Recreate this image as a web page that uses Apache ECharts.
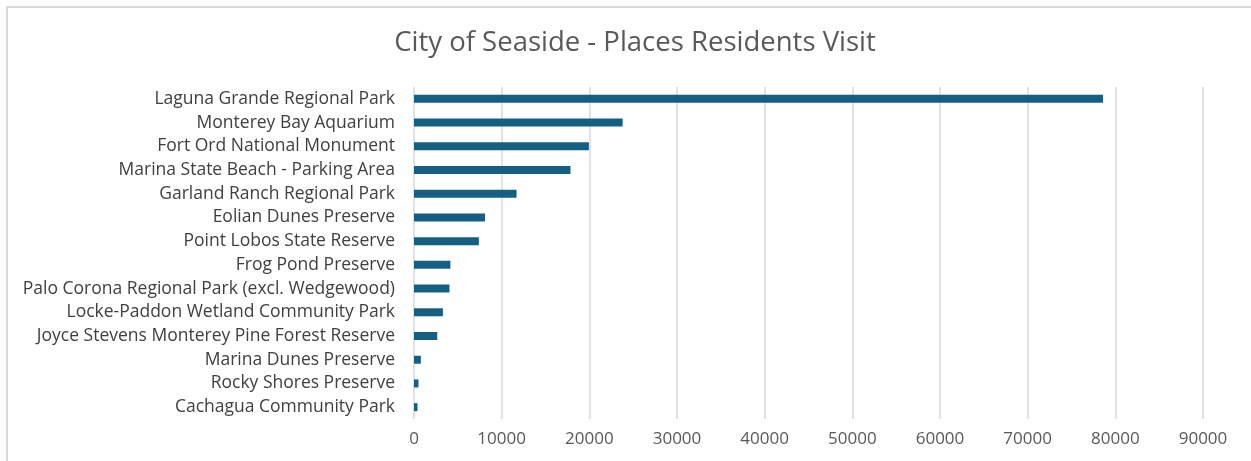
<!DOCTYPE html>
<html>
<head>
<meta charset="utf-8">
<script src="https://cdn.jsdelivr.net/npm/echarts@6/dist/echarts.min.js"></script>
<style>
  html, body { margin: 0; padding: 0; background: #fff; }
  #chart { width: 1251px; height: 461px; }
</style>
</head>
<body>
<div id="chart"></div>
<script>
// places, top to bottom as drawn
var places = [
  'Laguna Grande Regional Park',
  'Monterey Bay Aquarium',
  'Fort Ord National Monument',
  'Marina State Beach - Parking Area',
  'Garland Ranch Regional Park',
  'Eolian Dunes Preserve',
  'Point Lobos State Reserve',
  'Frog Pond Preserve',
  'Palo Corona Regional Park (excl. Wedgewood)',
  'Locke-Paddon Wetland Community Park',
  'Joyce Stevens Monterey Pine Forest Reserve',
  'Marina Dunes Preserve',
  'Rocky Shores Preserve',
  'Cachagua Community Park'
];
var visits = [78600, 23800, 19950, 17850, 11700, 8100, 7400, 4150, 4050, 3300, 2650, 780, 510, 400];
var xTicks = [0, 90000, 10000]; // min, max, interval

var myChart = echarts.init(document.getElementById('chart'));
var font = "'Open Sans', 'Noto Sans', sans-serif";

var option = {
  animation: false,
  backgroundColor: '#fff',
  textStyle: { fontFamily: font },
  title: {
    text: 'City of Seaside - Places Residents Visit',
    left: 630,
    textAlign: 'center',
    top: 24,
    textStyle: { fontFamily: font, fontSize: 27.5, fontWeight: 'normal', color: '#595959' }
  },
  graphic: [{
    type: 'rect',
    shape: { x: 7, y: 7, width: 1300, height: 500 },
    style: { fill: 'none', stroke: '#d9d9d9', lineWidth: 2 },
    silent: true
  }],
  grid: { left: 414, right: 48, top: 87, bottom: 42, containLabel: false },
  xAxis: {
    type: 'value',
    min: xTicks[0],
    max: xTicks[1],
    interval: xTicks[2],
    axisLine: { show: false },
    axisTick: { show: false },
    axisLabel: {
      color: '#595959', fontSize: 17, margin: 12, fontFamily: font,
      formatter: function (v) { return String(v); }
    },
    splitLine: { lineStyle: { color: '#d9d9d9', width: 1.5 } }
  },
  yAxis: {
    type: 'category',
    inverse: true,
    data: places,
    axisLine: { show: false },
    axisTick: { show: false },
    axisLabel: { color: '#404040', fontSize: 17.5, margin: 19, fontFamily: font }
  },
  series: [{
    type: 'bar',
    data: visits,
    barWidth: 8,
    itemStyle: { color: '#156082' }
  }]
};
myChart.setOption(option);
</script>
</body>
</html>
